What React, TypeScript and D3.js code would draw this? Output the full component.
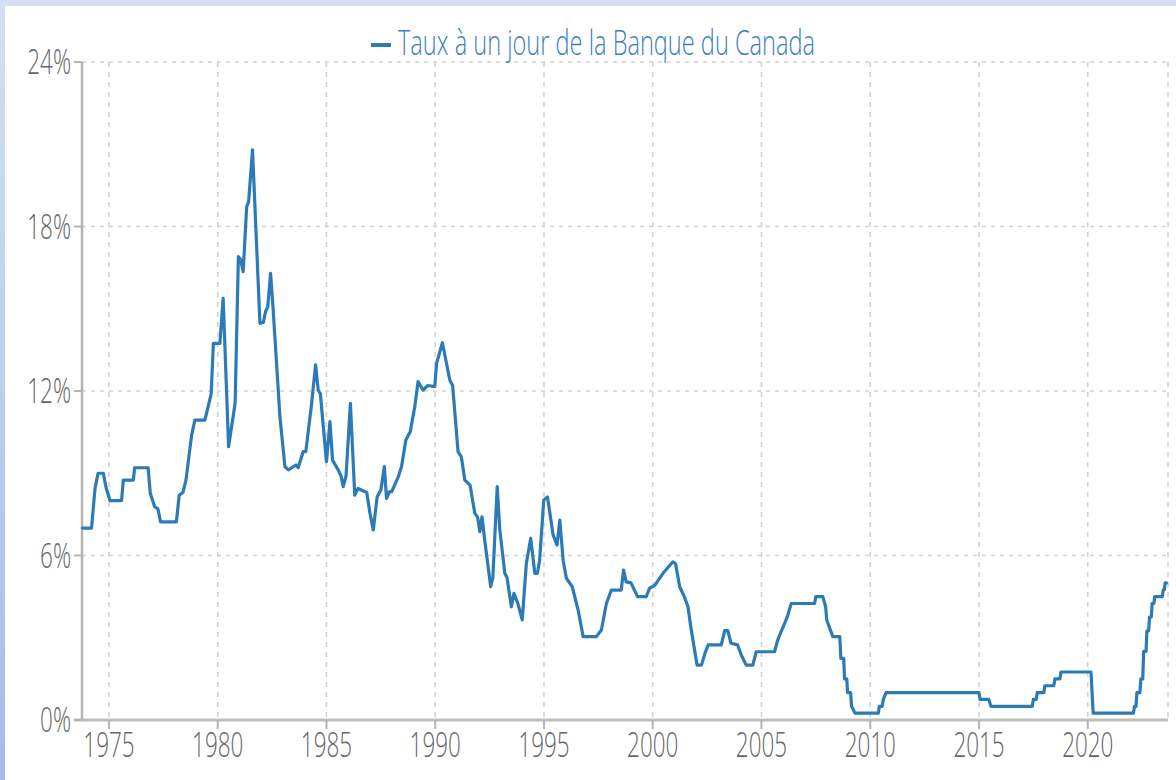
import React from "react";
import * as d3 from "d3";

const seriesName = "Taux à un jour de la Banque du Canada";
const xTickYears = [1975, 1980, 1985, 1990, 1995, 2000, 2005, 2010, 2015, 2020];
const yTickValues = [0, 6, 12, 18, 24];

const years = [
  1973.78, 1974.2, 1974.36, 1974.5, 1974.74, 1974.87, 1975.05, 1975.58, 1975.66, 1976.12,
  1976.18, 1976.8, 1976.9, 1977.1, 1977.25, 1977.37, 1978.1, 1978.23, 1978.4, 1978.54,
  1978.8, 1978.95, 1979.41, 1979.56, 1979.7, 1979.8, 1980.1, 1980.25, 1980.5, 1980.8,
  1980.95, 1981.05, 1981.17, 1981.33, 1981.42, 1981.6, 1981.94, 1982.1, 1982.2, 1982.3,
  1982.43, 1982.55, 1982.86, 1983.09, 1983.25, 1983.6, 1983.7, 1983.93, 1984.05, 1984.16,
  1984.31, 1984.5, 1984.62, 1984.72, 1985.0, 1985.16, 1985.28, 1985.54, 1985.67, 1985.77,
  1985.9, 1986.1, 1986.3, 1986.45, 1986.6, 1986.85, 1987.0, 1987.15, 1987.33, 1987.5,
  1987.66, 1987.76, 1987.9, 1988.0, 1988.3, 1988.45, 1988.65, 1988.85, 1989.06, 1989.21,
  1989.44, 1989.65, 1989.98, 1990.06, 1990.33, 1990.67, 1990.8, 1991.05, 1991.2, 1991.36,
  1991.6, 1991.82, 1991.95, 1992.05, 1992.15, 1992.3, 1992.55, 1992.65, 1992.85, 1992.97,
  1993.2, 1993.3, 1993.5, 1993.62, 1993.8, 1994.0, 1994.19, 1994.39, 1994.58, 1994.7,
  1994.8, 1994.99, 1995.16, 1995.42, 1995.6, 1995.73, 1995.88, 1996.03, 1996.3, 1996.57,
  1996.8, 1997.41, 1997.64, 1997.87, 1998.1, 1998.55, 1998.66, 1998.78, 1999.0, 1999.3,
  1999.7, 1999.85, 2000.1, 2000.47, 2000.93, 2001.05, 2001.24, 2001.45, 2001.62, 2001.75,
  2001.95, 2002.04, 2002.24, 2002.4, 2002.55, 2003.15, 2003.31, 2003.45, 2003.6, 2003.9,
  2004.07, 2004.3, 2004.6, 2004.76, 2005.6, 2005.75, 2005.9, 2006.07, 2006.2, 2006.37,
  2007.44, 2007.5, 2007.82, 2007.95, 2008.0, 2008.28, 2008.6, 2008.65, 2008.78, 2008.82,
  2008.92, 2008.96, 2009.1, 2009.14, 2009.3, 2010.37, 2010.42, 2010.55, 2010.6, 2010.73,
  2015.0, 2015.05, 2015.45, 2015.55, 2017.45, 2017.5, 2017.63, 2017.68, 2017.98, 2018.03,
  2018.44, 2018.49, 2018.72, 2018.77, 2020.15, 2020.25, 2022.1, 2022.15, 2022.22, 2022.26,
  2022.4, 2022.44, 2022.53, 2022.57, 2022.68, 2022.72, 2022.8, 2022.84, 2022.92, 2022.96,
  2023.04, 2023.08, 2023.43, 2023.47, 2023.52, 2023.56, 2023.62,
];

const rates = [
  7.0, 7.0, 8.46, 9.0, 9.0, 8.46, 8.0, 8.0, 8.75, 8.75,
  9.2, 9.2, 8.27, 7.78, 7.7, 7.23, 7.23, 8.2, 8.3, 8.75,
  10.39, 10.94, 10.94, 11.43, 11.9, 13.74, 13.74, 15.38, 9.97, 11.55,
  16.9, 16.8, 16.35, 18.72, 18.9, 20.8, 14.47, 14.5, 14.9, 15.07,
  16.29, 14.95, 11.06, 9.24, 9.12, 9.3, 9.2, 9.79, 9.79, 10.51,
  11.49, 12.95, 12.03, 11.9, 9.42, 10.88, 9.48, 9.12, 8.9, 8.51,
  8.9, 11.55, 8.2, 8.45, 8.39, 8.3, 7.54, 6.93, 8.14, 8.39,
  9.24, 8.08, 8.33, 8.33, 8.87, 9.24, 10.21, 10.51, 11.43, 12.34,
  12.03, 12.2, 12.16, 13.0, 13.76, 12.4, 12.2, 9.79, 9.6, 8.75,
  8.57, 7.54, 7.4, 6.87, 7.41, 6.4, 4.86, 5.2, 8.51, 6.93,
  5.35, 5.2, 4.13, 4.62, 4.25, 3.65, 5.71, 6.63, 5.35, 5.35,
  5.83, 8.02, 8.14, 6.75, 6.38, 7.29, 5.83, 5.17, 4.86, 4.01,
  3.04, 3.04, 3.28, 4.25, 4.74, 4.74, 5.47, 5.04, 5.0, 4.5,
  4.5, 4.8, 4.92, 5.35, 5.77, 5.7, 4.86, 4.5, 4.13, 3.4,
  2.43, 2.0, 2.0, 2.43, 2.74, 2.74, 3.26, 3.26, 2.8, 2.74,
  2.37, 2.0, 2.0, 2.49, 2.49, 2.92, 3.22, 3.53, 3.8, 4.25,
  4.25, 4.5, 4.5, 4.13, 3.65, 3.04, 3.04, 2.25, 2.25, 1.5,
  1.5, 1.0, 1.0, 0.5, 0.25, 0.25, 0.5, 0.5, 0.75, 1.0,
  1.0, 0.75, 0.75, 0.5, 0.5, 0.75, 0.75, 1.0, 1.0, 1.25,
  1.25, 1.5, 1.5, 1.75, 1.75, 0.25, 0.25, 0.5, 0.5, 1.0,
  1.0, 1.5, 1.5, 2.5, 2.5, 3.25, 3.25, 3.75, 3.75, 4.25,
  4.25, 4.5, 4.5, 4.75, 4.75, 5.0, 5.0,
];

const W = 1176;
const H = 780;
const LEFT = 82;
const RIGHT = 1168;
const TOP = 62;
const BOTTOM = 720;
const FONT = "'Open Sans', 'DejaVu Sans Condensed', sans-serif";
const SX = 0.66;
const LINE_COLOR = "#2c7bb6";

export default function App() {
  const x = d3.scaleLinear().domain([1973.76, 2023.69]).range([LEFT, RIGHT]);
  const y = d3.scaleLinear().domain([0, 24]).range([BOTTOM, TOP]);

  const data = years.map((yr, i) => ({ yr, v: rates[i] }));
  const line = d3
    .line<{ yr: number; v: number }>()
    .x((d) => x(d.yr))
    .y((d) => y(d.v))
    .curve(d3.curveLinear);

  const gridColor = "#d2d2d2";

  return (
    <svg
      width={W}
      height={H}
      style={{ position: "absolute", left: 0, top: 0, background: "#ffffff" }}
    >
      <defs>
        <linearGradient id="leftStrip" x1="0" y1="0" x2="0" y2="1">
          <stop offset="0%" stopColor="#d6dff1" />
          <stop offset="100%" stopColor="#a5bce8" />
        </linearGradient>
      </defs>
      <rect x={0} y={0} width={W} height={H} fill="#ffffff" />
      <rect x={0} y={0} width={W} height={6} fill="#d6dff1" />
      <rect x={0} y={0} width={5} height={H} fill="url(#leftStrip)" />

      {yTickValues.map((v) => (
        <line
          key={"hg" + v}
          x1={LEFT}
          x2={RIGHT}
          y1={y(v)}
          y2={y(v)}
          stroke={gridColor}
          strokeWidth={1.6}
          strokeDasharray="4,5"
        />
      ))}
      {xTickYears.map((yr) => (
        <line
          key={"vg" + yr}
          x1={x(yr)}
          x2={x(yr)}
          y1={TOP}
          y2={BOTTOM}
          stroke={gridColor}
          strokeWidth={1.6}
          strokeDasharray="5,5"
        />
      ))}
      <line
        x1={RIGHT}
        x2={RIGHT}
        y1={TOP}
        y2={BOTTOM}
        stroke={gridColor}
        strokeWidth={1.6}
        strokeDasharray="5,5"
      />

      <line x1={LEFT} x2={LEFT} y1={TOP} y2={BOTTOM} stroke="#b4b4b4" strokeWidth={2.5} />
      <line x1={LEFT - 8} x2={RIGHT} y1={BOTTOM} y2={BOTTOM} stroke="#bdbdbd" strokeWidth={3} />
      {yTickValues.map((v) => (
        <line
          key={"yt" + v}
          x1={LEFT - 8}
          x2={LEFT}
          y1={y(v)}
          y2={y(v)}
          stroke="#b4b4b4"
          strokeWidth={2}
        />
      ))}
      {xTickYears.map((yr) => (
        <line
          key={"xt" + yr}
          x1={x(yr)}
          x2={x(yr)}
          y1={BOTTOM}
          y2={BOTTOM + 9}
          stroke="#b4b4b4"
          strokeWidth={2}
        />
      ))}

      <path
        d={line(data) || ""}
        fill="none"
        stroke={LINE_COLOR}
        strokeWidth={3.2}
        strokeLinejoin="round"
        strokeLinecap="round"
      />

      {xTickYears.map((yr) => (
        <text
          key={"xl" + yr}
          transform={`translate(${x(yr)},${BOTTOM + 37}) scale(${SX},1)`}
          textAnchor="middle"
          fontFamily={FONT}
          fontSize={34}
          fontWeight={300}
          fill="#666666"
        >
          {yr}
        </text>
      ))}
      {yTickValues.map((v) => (
        <text
          key={"yl" + v}
          transform={`translate(${LEFT - 11},${y(v) + 12}) scale(${SX},1)`}
          textAnchor="end"
          fontFamily={FONT}
          fontSize={34}
          fontWeight={300}
          fill="#666666"
        >
          {v + "%"}
        </text>
      ))}

      <line x1={371} x2={391} y1={45} y2={45} stroke={LINE_COLOR} strokeWidth={4} />
      <text
        x={398}
        y={55}
        fontFamily={FONT}
        fontSize={34}
        fontWeight={300}
        fill="#3a7fc0"
        textLength={417}
        lengthAdjust="spacingAndGlyphs"
      >
        {seriesName}
      </text>
    </svg>
  );
}
